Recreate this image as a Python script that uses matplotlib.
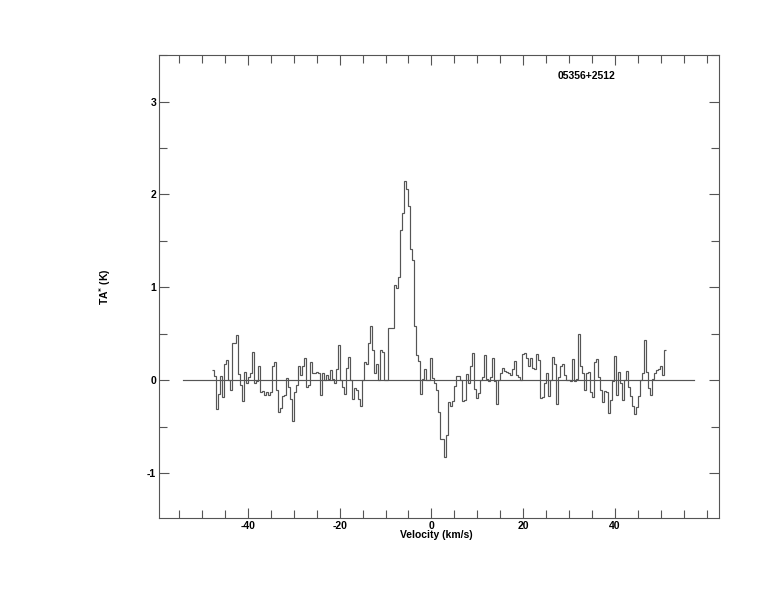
"""
    05356+2512 spectrum: TA* (K) against velocity (km/s)
"""
import numpy as np
import matplotlib
matplotlib.use("Agg")
from matplotlib import pyplot as plt

# channel grid (km/s)
v_start = -47.92
chan_width = 0.4362

# antenna temperature per channel (K)
ta = [0.11, 0.05, -0.31, -0.15, 0.05, -0.18, 0.18, 0.22, 0.0, -0.10,
      0.40, 0.40, 0.49, 0.07, -0.05, -0.22, 0.09, -0.03, 0.04, 0.08,
      0.31, -0.03, -0.01, 0.15, -0.12, -0.11, -0.16, -0.12, -0.16, -0.12,
      0.16, 0.20, -0.10, -0.34, -0.30, -0.17, -0.16, 0.03, -0.07, -0.20,
      -0.44, -0.12, -0.05, 0.15, 0.06, 0.16, 0.24, -0.07, -0.05, 0.20,
      0.08, 0.08, 0.09, 0.08, -0.16, 0.08, 0.0,
      # -22 .. +6
      0.06, 0.01, 0.11, 0.02, -0.03, 0.12, 0.38, 0.0, -0.07, -0.15,
      0.13, 0.25, 0.0, -0.20, -0.08, -0.10, -0.20, -0.28, 0.0, 0.20,
      0.18, 0.40, 0.58, 0.33, 0.08, 0.18, 0.0, 0.33, 0.31, 0.0,
      0.0, 0.56, 0.56, 0.56, 1.03, 0.99, 1.11, 1.62, 1.80, 2.14,
      2.06, 1.88, 1.41, 1.30, 0.58, 0.27, 0.21, -0.15, 0.02, 0.12,
      0.0, 0.0, 0.24, 0.03, -0.03, -0.10, -0.34, -0.63, -0.63, -0.82,
      # +3 .. +31
      -0.59, -0.23, -0.27, -0.22, -0.06, 0.05, 0.05, 0.0, -0.22, -0.21,
      0.07, -0.03, 0.15, 0.30, -0.09, -0.19, -0.14, 0.0, 0.04, 0.27,
      0.02, -0.01, 0.04, 0.24, -0.01, -0.25, 0.0, 0.08, 0.13, 0.10,
      0.09, 0.08, 0.06, 0.12, 0.21, 0.06, 0.04, 0.0, 0.28, 0.29,
      0.24, 0.15, 0.24, 0.13, 0.12, 0.28, 0.22, -0.19, -0.18, -0.03,
      0.08, -0.17, 0.0, 0.25, 0.18, -0.25, 0.04, 0.16, 0.18, 0.06,
      0.0, 0.0, -0.01, 0.23, -0.01,
      # +31 .. +51
      0.02, 0.50, 0.15, 0.08, -0.10, 0.08, 0.09, -0.12, -0.18, 0.20,
      0.23, 0.04, -0.10, -0.23, -0.11, -0.12, -0.35, -0.21, -0.01, 0.26,
      -0.16, 0.09, -0.03, -0.21, 0.0, 0.10, -0.07, -0.17, -0.27, -0.36,
      -0.29, -0.17, 0.0, 0.08, 0.43, 0.09, -0.08, -0.16, 0.01, 0.08,
      0.11, 0.12, 0.15, 0.06, 0.33]

# zero line range (km/s)
base_v = [-54.2, 57.3]

source = "05356+2512"

edges = v_start + chan_width * np.arange(len(ta) + 1)

plt.rcParams['font.family'] = ['Liberation Sans', 'DejaVu Sans']
plt.rcParams['font.weight'] = 'bold'
plt.rcParams['axes.unicode_minus'] = False

fig = plt.figure(figsize=(7.74, 6.12), dpi=100)
ax = fig.add_axes([0.2054, 0.1536, 0.7235, 0.7565])

line_col = "#555555"
ax.stairs(ta, edges, baseline=None, color=line_col, linewidth=0.85)
ax.plot(base_v, [0, 0], color=line_col, linewidth=0.85)

ax.set_xlim(-59.4, 62.7)
ax.set_ylim(-1.48, 3.5)

ax.set_xticks([-40, -20, 0, 20, 40])
ax.set_xticks(np.arange(-55, 61, 5), minor=True)
ax.set_yticks([-1, 0, 1, 2, 3])
ax.set_yticks(np.arange(-1, 3.6, 0.5), minor=True)

ax.tick_params(which='both', direction='in', top=True, right=True,
               color=line_col, width=0.8, labelsize=7.5)
ax.tick_params(which='major', length=7.2)
ax.tick_params(which='minor', length=5.8)
ax.tick_params(axis='x', pad=2.5)
ax.tick_params(axis='y', pad=2)
for s in ax.spines.values():
    s.set_color(line_col)
    s.set_linewidth(0.8)

ax.set_xlabel("Velocity (km/s)", fontsize=7.5, fontweight='bold')
ax.xaxis.set_label_coords(0.495, -0.026)
ax.set_ylabel("TA$^{*}$ (K)", fontsize=7.5, fontweight='bold')
ax.yaxis.set_label_coords(-0.083, 0.5)

ax.text(0.711, 0.955, source, transform=ax.transAxes, fontsize=7.5,
        fontweight='bold', ha='left', va='center')

plt.savefig("out.png", dpi=100)
